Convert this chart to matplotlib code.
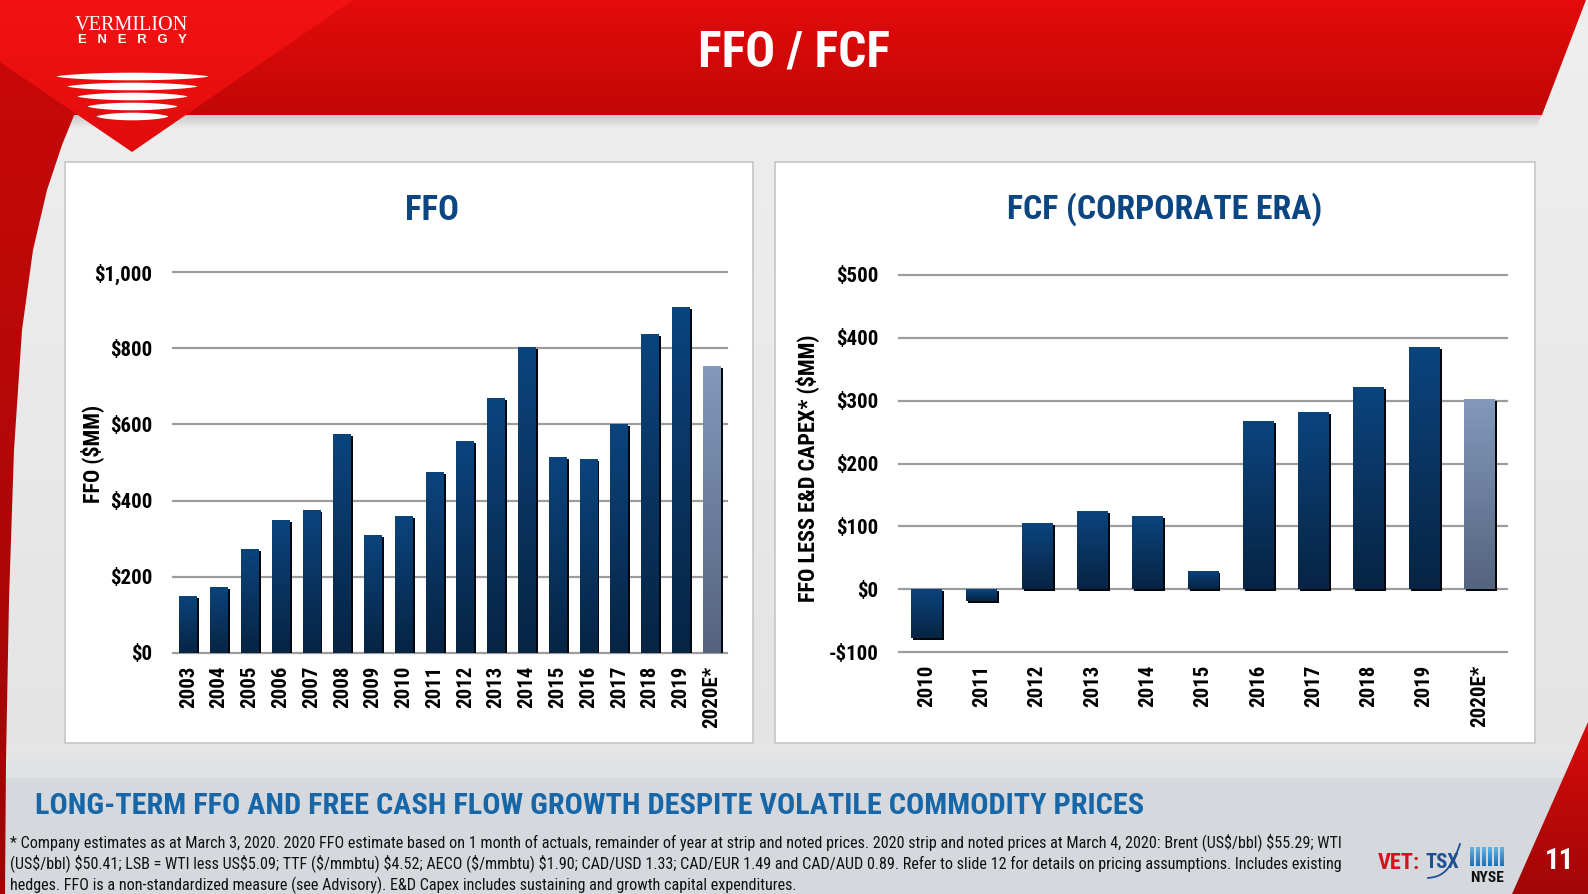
import numpy as np
import matplotlib
matplotlib.use("Agg")
import matplotlib.pyplot as plt
from matplotlib import font_manager as fm
from matplotlib.colors import LinearSegmentedColormap
from matplotlib.patches import Polygon, Rectangle
from matplotlib.transforms import offset_copy

# --- data -------------------------------------------------------------
ffo_years = ["2003", "2004", "2005", "2006", "2007", "2008", "2009", "2010", "2011",
             "2012", "2013", "2014", "2015", "2016", "2017", "2018", "2019", "2020E*"]
ffo_values = [150, 174, 274, 350, 376, 576, 311, 360, 476,
              557, 668, 804, 514, 510, 602, 838, 909, 754]
ffo_ticks = [0, 200, 400, 600, 800, 1000]
ffo_tick_labels = ["$0", "$200", "$400", "$600", "$800", "$1,000"]

fcf_years = ["2010", "2011", "2012", "2013", "2014", "2015",
             "2016", "2017", "2018", "2019", "2020E*"]
fcf_values = [-77, -19, 105, 124, 116, 29, 268, 282, 321, 385, 303]
fcf_ticks = [-100, 0, 100, 200, 300, 400, 500]
fcf_tick_labels = ["-$100", "$0", "$100", "$200", "$300", "$400", "$500"]

footnote = [
    "* Company estimates as at March 3, 2020. 2020 FFO estimate based on 1 month of actuals, remainder of year at strip and noted prices. 2020 strip and noted prices at March 4, 2020: Brent (US$/bbl) $55.29; WTI",
    "(US$/bbl) $50.41; LSB = WTI less US$5.09; TTF ($/mmbtu) $4.52; AECO ($/mmbtu) $1.90; CAD/USD 1.33; CAD/EUR 1.49 and CAD/AUD 0.89. Refer to slide 12 for details on pricing assumptions. Includes existing",
    "hedges. FFO is a non-standardized measure (see Advisory). E&D Capex includes sustaining and growth capital expenditures.",
]


# --- fonts: look for a narrow face, else plain Liberation Sans ----------
def pick_narrow():
    prefs = ["Liberation Sans Narrow", "Roboto Condensed", "Open Sans Condensed",
             "Noto Sans", "DejaVu Sans", "Roboto", "Open Sans"]
    for p in prefs:
        for f in fm.fontManager.ttflist:
            if f.name != p:
                continue
            named = ("Narrow" in p) or ("Condensed" in p)
            if named:
                return p, "normal"
            if str(f.stretch) in ("condensed", "semi-condensed", "extra-condensed"):
                return p, str(f.stretch)
    return "Liberation Sans", "normal"


NARROW, STRETCH = pick_narrow()
plt.rcParams["font.family"] = [NARROW, "DejaVu Sans"]
plt.rcParams["font.stretch"] = STRETCH
TXT = dict(family=[NARROW, "DejaVu Sans"], stretch=STRETCH)

FW, FH = 1588, 894
fig = plt.figure(figsize=(FW / 100, FH / 100), dpi=100)
bg = fig.add_axes([0, 0, 1, 1])
bg.axis("off")
renderer = fig.canvas.get_renderer()


def fit(t, target, along="w"):
    bb = t.get_window_extent(renderer)
    cur = bb.width if along == "w" else bb.height
    t.set_fontsize(t.get_fontsize() * target / cur)
    return t.get_fontsize()


def grad(ax, verts, extent, c0, c1, z, horizontal=False):
    poly = Polygon(verts, closed=True, facecolor="none", edgecolor="none")
    ax.add_patch(poly)
    cmap = LinearSegmentedColormap.from_list("g", [c0, c1])
    arr = np.linspace(0, 1, 256)
    arr = arr.reshape(1, -1) if horizontal else arr.reshape(-1, 1)
    im = ax.imshow(arr, extent=extent, origin="upper", cmap=cmap, aspect="auto",
                   zorder=z, interpolation="bilinear")
    im.set_clip_path(poly)


# slide background
grad(bg, [(0, 0), (FW, 0), (FW, FH), (0, FH)], (0, FW, FH, 0), "#efefef", "#e2e2e2", 0)
grad(bg, [(0, 745), (FW, 745), (FW, 778), (0, 778)], (0, FW, 778, 745), "#e6e6e6", "#dfe1e4", 0.5)
bg.add_patch(Rectangle((0, 778), FW, FH - 778, facecolor="#d5d8dd", edgecolor="none", zorder=0.6))

# header band
grad(bg, [(0, 115), (1542, 115), (1536, 128), (0, 128)], (0, FW, 128, 115), "#c8c8c8", "#ececec", 0.8)
grad(bg, [(0, 0), (1586, 0), (1542, 115), (0, 115)], (0, FW, 115, 0), "#e40b0b", "#c20707", 1)
grad(bg, [(0, 62), (75, 113), (62, 145), (47, 190), (33, 250), (22, 330), (14, 450),
          (9, 600), (6, 760), (5, FH), (0, FH)], (0, 80, FH, 60), "#c80909", "#9c0505", 1.1)
grad(bg, [(0, 0), (353, 0), (132, 152), (0, 62)], (0, 353, 152, 0), "#f31313", "#e10c0c", 1.2)
grad(bg, [(1512, FH), (FW, FH), (FW, 722)], (1512, FW, FH, 722), "#d80b0b", "#a00606", 1.3)

# logo
t = bg.text(131, 25, "VERMILION", color="white", fontsize=13,
            family=["Liberation Serif", "DejaVu Serif"], ha="center", va="center", zorder=6)
fit(t, 113)
t = bg.text(132, 40, "E   N   E   R   G   Y", color="white", fontsize=7, fontweight="bold",
            family=["Liberation Sans", "DejaVu Sans"], ha="center", va="center", zorder=6)
fit(t, 110)
for cy, hw in zip([76, 86, 96, 106, 116], [76, 65, 55, 45, 36]):
    s = np.linspace(-1, 1, 80)
    h = 3.8 * (1 - s ** 2) ** 0.7
    bg.fill_between(132 + s * hw, cy - h, cy + h, color="white", lw=0, zorder=6)

t = bg.text(794, 53, "FFO / FCF", color="white", fontsize=35, fontweight="bold",
            ha="center", va="center", zorder=6, **TXT)
fit(t, 192)

# panels
bg.add_patch(Rectangle((65, 162), 688, 581, facecolor="white", edgecolor="#c6c6c6", lw=1.2, zorder=2))
bg.add_patch(Rectangle((775, 162), 760, 581, facecolor="white", edgecolor="#c6c6c6", lw=1.2, zorder=2))
t = bg.text(432, 211, "FFO", color="#0c4682", fontsize=24, fontweight="bold",
            ha="center", va="center", zorder=6, **TXT)
fit(t, 54)
t = bg.text(1165, 209, "FCF (CORPORATE ERA)", color="#0c4682", fontsize=24, fontweight="bold",
            ha="center", va="center", zorder=6, **TXT)
fit(t, 316)
t = bg.text(92, 454, "FFO ($MM)", rotation=90, fontsize=16, fontweight="bold",
            ha="center", va="center", zorder=6, **TXT)
fit(t, 98, "h")
t = bg.text(807, 468, "FFO LESS E&D CAPEX* ($MM)", rotation=90, fontsize=16, fontweight="bold",
            ha="center", va="center", zorder=6, **TXT)
fit(t, 267, "h")

# bottom band text
t = bg.text(35, 806, "LONG-TERM FFO AND FREE CASH FLOW GROWTH DESPITE VOLATILE COMMODITY PRICES",
            color="#1767a8", fontsize=21, fontweight="bold", ha="left", va="center", zorder=6, **TXT)
fit(t, 1106)
fn = []
for i, line in enumerate(footnote):
    fn.append(bg.text(10, 842 + i * 21.5, line, fontsize=11, color="#111111", ha="left",
                      va="center", zorder=6, parse_math=False, **TXT))
size = fit(fn[0], 1333)
for t in fn[1:]:
    t.set_fontsize(size)

t = bg.text(1378, 863, "VET:", color="#d3141c", fontsize=15, fontweight="bold",
            ha="left", va="center", zorder=6, **TXT)
fit(t, 42)
t = bg.text(1425, 862, "TSX", color="#1d4f93", fontsize=16, fontweight="bold",
            ha="left", va="center", zorder=6, **TXT)
fit(t, 34)
sw = np.linspace(0, 1, 40)
bg.plot(1428 + 32 * sw, 878 - 4 * sw - 30 * sw ** 3, color="#1d4f93", lw=1.3, zorder=6)
for k in range(6):
    grad(bg, [(1470 + k * 6, 847), (1474 + k * 6, 847), (1474 + k * 6, 866), (1470 + k * 6, 866)],
         (1470, 1506, 866, 847), "#5fb7e8", "#1b6fb8", 6)
t = bg.text(1487, 878, "NYSE", color="#111111", fontsize=9, fontweight="bold",
            ha="center", va="center", zorder=6, **TXT)
fit(t, 34)
bg.text(1560, 861, "11", color="white", fontsize=21, fontweight="bold",
        ha="center", va="center", zorder=6, **TXT)

bg.set_xlim(0, FW)
bg.set_ylim(FH, 0)

# tick-label size from the widest label ($1,000 is 58 px wide)
probe = bg.text(0, 0, ffo_tick_labels[-1], fontsize=16, fontweight="bold", **TXT)
TICK = fit(probe, 58)
probe.remove()


# --- charts -----------------------------------------------------------
def px_axes(x0, y0, x1, y1):
    return fig.add_axes([x0 / FW, 1 - y1 / FH, (x1 - x0) / FW, (y1 - y0) / FH])


def draw_chart(ax, labels, values, ticks, tick_labels, width):
    x = np.arange(len(values))
    shadow_tf = offset_copy(ax.transData, fig=fig, x=2, y=-2, units="dots")
    ax.bar(x, values, width, color="#02060d", transform=shadow_tf, zorder=2, lw=0)
    bars = ax.bar(x, values, width, color="#0a3a6c", zorder=3, lw=0)
    for lab, val, b in zip(labels, values, bars):
        top_c, bot_c = ("#8299bb", "#55647e") if lab.endswith("*") else ("#0b447d", "#072444")
        cm = LinearSegmentedColormap.from_list("b", [top_c, bot_c])
        x0 = b.get_x()
        im = ax.imshow(np.linspace(0, 1, 64).reshape(-1, 1),
                       extent=(x0, x0 + width, min(0, val), max(0, val)),
                       origin="upper", cmap=cm, aspect="auto", zorder=4)
        im.set_clip_path(b)
    ax.set_xlim(-0.5, len(values) - 0.5)
    ax.set_ylim(ticks[0], ticks[-1])
    ax.set_yticks(ticks, tick_labels, fontsize=TICK, fontweight="bold", **TXT)
    ax.set_xticks(x, labels, rotation=90, fontsize=TICK, fontweight="bold", **TXT)
    ax.tick_params(axis="y", length=0, pad=15)
    ax.tick_params(axis="x", length=0, pad=9)
    ax.yaxis.grid(True, color="#9c9c9c", lw=1.6)
    ax.set_axisbelow(True)
    for gl in ax.get_ygridlines():
        gl.set_clip_on(False)
    for s in ax.spines.values():
        s.set_visible(False)
    ax.patch.set_visible(False)


ax1 = px_axes(173, 272, 727, 653)
draw_chart(ax1, ffo_years, ffo_values, ffo_ticks, ffo_tick_labels, 0.58)

ax2 = px_axes(899, 275, 1507, 652)
draw_chart(ax2, fcf_years, fcf_values, fcf_ticks, fcf_tick_labels, 0.56)

fig.savefig("out.png", dpi=100)
